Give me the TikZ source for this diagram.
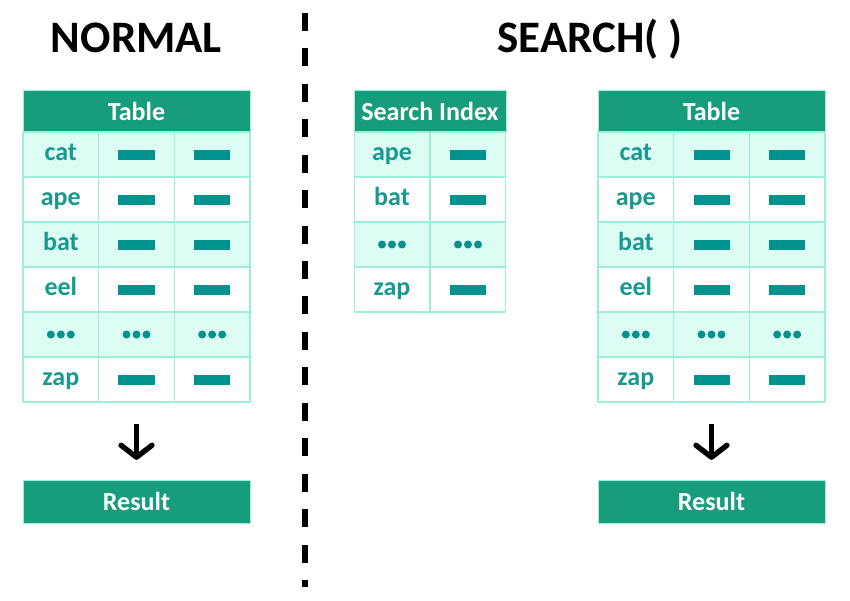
\documentclass[tikz,border=0pt]{standalone}
\usepackage{fontspec}
\setmainfont{Carlito}
\usetikzlibrary{arrows.meta}
\definecolor{headgreen}{HTML}{179C7C}
\definecolor{rowlight}{HTML}{DDFDF4}
\definecolor{gridc}{HTML}{9BEFD9}
\definecolor{tealtxt}{HTML}{17998F}
\definecolor{tealbar}{HTML}{00938E}
\begin{document}
\begin{tikzpicture}[x=0.025cm,y=-0.025cm,line join=round,font=\bfseries,
	headbox/.style={fill=headgreen,draw=gridc,line width=0.6pt,text=white,inner sep=0pt,
		minimum height=1.05cm,text height=12.8pt,text depth=0pt,font=\bfseries\fontsize{18.5}{18.5}\selectfont},
	cellbox/.style={draw=gridc,line width=0.8pt,inner sep=0pt,minimum width=1.89cm,minimum height=1.125cm},
	celltxt/.style={text=tealtxt,inner sep=0pt,text height=8.8pt,text depth=0pt,font=\bfseries\fontsize{18.5}{18.5}\selectfont},
	barbox/.style={fill=tealbar,inner sep=0pt,minimum width=0.9cm,minimum height=0.25cm},
	dotmark/.style={fill=tealbar,circle,inner sep=0pt,minimum size=0.2cm},
	downarrow/.style={line width=3.8pt,-{Straight Barb[length=8.5pt,width=22pt,round]}},
	divider/.style={line width=4.3pt,dash pattern=on 12.8pt off 12.4pt},
	title/.style={anchor=base,font=\bfseries\fontsize{32}{32}\selectfont}]
	\useasboundingbox (0,0) rectangle (850,600);
	\def\dotword{dots}
	% Titel
	\node[title] (tnormal) at (136.5,52) {NORMAL};
	\node[title] (tsearch) at (590,52) {SEARCH( )};
	% Trennlinie
	\coordinate (divtop) at (305,13);
	\coordinate (divbot) at (305,587);
	\draw[divider] (divtop) -- (divbot);
	% Tabellen
	\foreach \tx/\nm in {23/L,598/R}{
		\node[headbox,minimum width=5.675cm] (\nm-head) at (\tx+113.5,111) {Table};
		\foreach \w [count=\i] in {cat,ape,bat,eel,dots,zap}{
			\ifodd\i \def\fillc{rowlight}\else \def\fillc{white}\fi
			\foreach \j in {1,2,3}
				\node[cellbox,fill=\fillc] (\nm-\i-\j) at (\tx+37.83+75.67*\j-75.67,109.5+45*\i) {};
			\edef\tmp{\w}
			\ifx\tmp\dotword
				\foreach \j in {1,2,3}
					\foreach \k in {-1,0,1}
						\node[dotmark] at ([xshift=\k*7.1pt]\nm-\i-\j.center) {};
			\else
				\node[celltxt] (\nm-\i-txt) at (\nm-\i-1.center) {\w};
				\node[barbox] at (\nm-\i-2.center) {};
				\node[barbox] at (\nm-\i-3.center) {};
			\fi
		}
		\node[headbox,minimum width=5.675cm,minimum height=1.075cm] (\nm-res) at (\tx+113.5,501.5) {Result};
		\draw[downarrow] ([yshift=-15pt]\nm-6-2.south) -- ([yshift=14pt]\nm-res.north);
	}
	% Suchindex
	\node[headbox,minimum width=3.8cm] (S-head) at (430,111) {Search Index};
	\foreach \w [count=\i] in {ape,bat,dots,zap}{
		\ifodd\i \def\fillc{rowlight}\else \def\fillc{white}\fi
		\foreach \j in {1,2}
			\node[cellbox,fill=\fillc] (S-\i-\j) at (392+76*\j-76,109.5+45*\i) {};
		\edef\tmp{\w}
		\ifx\tmp\dotword
			\foreach \j in {1,2}
				\foreach \k in {-1,0,1}
					\node[dotmark] at ([xshift=\k*7.1pt]S-\i-\j.center) {};
		\else
			\node[celltxt] (S-\i-txt) at (S-\i-1.center) {\w};
			\node[barbox] at (S-\i-2.center) {};
		\fi
	}
\end{tikzpicture}
\end{document}
